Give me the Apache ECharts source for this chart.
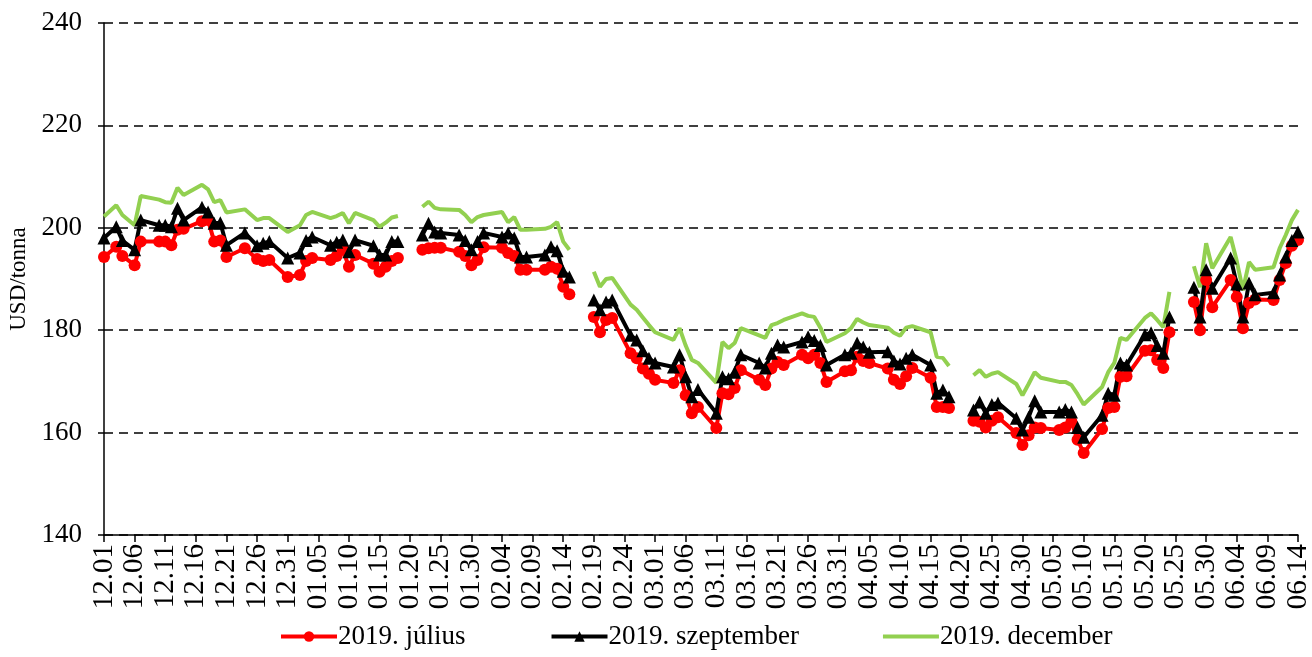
<!DOCTYPE html>
<html>
<head>
<meta charset="utf-8">
<title>Búza határidős árak</title>
<script src="https://cdn.jsdelivr.net/npm/echarts@6/dist/echarts.min.js"></script>
<style>
  html, body { margin: 0; padding: 0; background: #fff; }
  #main { width: 1312px; height: 657px; }
</style>
</head>
<body>
<div id="main"></div>
<script>
// trading days (null values = holiday, line is broken there)
var tradeDates = ['12.01', '12.03', '12.04', '12.06', '12.07', '12.10', '12.11', '12.12', '12.13', '12.14',
    '12.17', '12.18', '12.19', '12.20', '12.21', '12.24', '12.26', '12.27', '12.28', '12.31',
    '01.02', '01.03', '01.04', '01.07', '01.08', '01.09', '01.10', '01.11', '01.14', '01.15',
    '01.16', '01.17', '01.18', '01.21', '01.22', '01.23', '01.24', '01.25', '01.28', '01.29',
    '01.30', '01.31', '02.01', '02.04', '02.05', '02.06', '02.07', '02.08', '02.11', '02.12',
    '02.13', '02.14', '02.15', '02.18', '02.19', '02.20', '02.21', '02.22', '02.25', '02.26',
    '02.27', '02.28', '03.01', '03.04', '03.05', '03.06', '03.07', '03.08', '03.11', '03.12',
    '03.13', '03.14', '03.15', '03.18', '03.19', '03.20', '03.21', '03.22', '03.25', '03.26',
    '03.27', '03.28', '03.29', '04.01', '04.02', '04.03', '04.04', '04.05', '04.08', '04.09',
    '04.10', '04.11', '04.12', '04.15', '04.16', '04.17', '04.18', '04.19', '04.22', '04.23',
    '04.24', '04.25', '04.26', '04.29', '04.30', '05.01', '05.02', '05.03', '05.06', '05.07',
    '05.08', '05.09', '05.10', '05.13', '05.14', '05.15', '05.16', '05.17', '05.20', '05.21',
    '05.22', '05.23', '05.24', '05.27', '05.28', '05.29', '05.30', '05.31', '06.03', '06.04',
    '06.05', '06.06', '06.07', '06.10', '06.11', '06.12', '06.13', '06.14'];

var july = [194.3, 196.3, 194.5, 192.7, 197.3, 197.3, 197.3, 196.6, 199.6, 199.8,
    201.3, 201.5, 197.3, 197.5, 194.3, 196.0, 193.9, 193.5, 193.7, 190.4,
    190.8, 193.5, 194.1, 193.7, 194.5, 195.7, 192.4, 194.7, 193.0, 191.4,
    192.4, 193.5, 194.1, null, 195.7, 196.0, 196.1, 196.1, 195.3, 194.5,
    192.7, 193.7, 196.2, 196.1, 195.1, 194.5, 191.8, 191.8, 191.8, 192.4,
    192.0, 188.5, 187.0, null, 182.6, 179.6, 182.0, 182.4, 175.5, 174.5,
    172.5, 171.5, 170.3, 169.7, 172.2, 167.3, 163.8, 165.0, 160.9, 167.7,
    167.5, 168.7, 172.2, 170.3, 169.3, 172.5, 173.8, 173.2, 175.2, 174.5,
    175.2, 173.6, 169.9, 172.0, 172.2, 174.8, 174.0, 173.6, 172.5, 170.3,
    169.5, 171.0, 172.6, 170.7, 165.0, 165.0, 164.8, null, 162.3, 162.1,
    161.0, 162.3, 163.0, 159.9, 157.6, 159.5, 161.0, 160.9, 160.5, 161.0,
    162.1, 158.6, 156.0, 160.7, 164.8, 165.0, 170.9, 171.0, 176.0, 176.1,
    174.2, 172.6, 179.6, null, 185.5, 180.0, 189.8, 184.5, 189.8, 186.5,
    180.4, 185.3, 186.0, 185.9, 189.8, 193.1, 196.5, 197.6];

var september = [198.0, 200.2, 197.5, 195.7, 201.5, 200.5, 200.5, 200.2, 203.8, 201.5,
    204.0, 203.1, 200.9, 201.0, 196.6, 199.0, 196.5, 197.0, 197.3, 194.1,
    195.1, 197.5, 198.2, 196.6, 197.2, 197.6, 195.3, 197.6, 196.5, 194.7,
    194.7, 197.3, 197.3, null, 198.6, 200.9, 199.2, 199.0, 198.6, 197.5,
    195.7, 197.3, 199.0, 198.2, 199.0, 198.0, 194.3, 194.3, 194.7, 196.3,
    195.5, 191.5, 190.4, null, 185.9, 184.0, 185.5, 185.9, 179.0, 178.1,
    176.0, 174.5, 173.6, 172.8, 175.2, 170.9, 167.0, 168.4, 163.8, 170.9,
    170.5, 171.8, 175.2, 173.6, 172.6, 175.5, 177.1, 176.7, 177.7, 178.7,
    178.0, 177.0, 173.2, 175.2, 175.5, 177.5, 176.7, 175.7, 175.8, 174.0,
    173.4, 174.5, 175.2, 173.2, 167.7, 168.3, 167.0, null, 164.4, 166.0,
    163.8, 165.5, 165.8, 162.8, 160.5, 163.0, 166.2, 164.0, 164.0, 164.5,
    164.0, 161.0, 159.1, 163.4, 167.7, 167.3, 173.6, 173.2, 179.1, 179.5,
    177.0, 175.5, 182.6, null, 188.4, 182.6, 191.8, 188.2, 194.1, 189.0,
    182.6, 189.2, 186.9, 187.3, 190.8, 194.3, 197.5, 199.2];

var december = [202.2, 204.4, 202.5, 200.5, 206.2, 205.5, 205.0, 204.9, 207.8, 206.4,
    208.4, 207.5, 205.0, 205.4, 203.0, 203.6, 201.5, 201.9, 201.9, 199.2,
    200.5, 202.5, 203.1, 201.9, 202.3, 202.9, 200.9, 202.9, 201.5, 200.2,
    201.0, 202.0, 202.3, null, 204.1, 205.1, 203.9, 203.6, 203.5, 202.5,
    201.1, 202.1, 202.5, 203.1, 201.1, 202.1, 199.6, 199.6, 199.8, 200.2,
    201.1, 197.3, 195.7, null, 191.4, 188.5, 190.0, 190.2, 185.0, 184.0,
    182.5, 181.0, 179.6, 178.1, 180.4, 177.0, 174.2, 173.6, 169.7, 177.7,
    176.5, 177.5, 180.4, 179.0, 178.5, 181.0, 181.4, 182.0, 183.3, 182.8,
    182.6, 180.5, 177.7, 179.4, 180.4, 182.2, 181.5, 181.0, 180.5, 179.5,
    178.9, 180.5, 180.8, 179.6, 174.8, 174.6, 173.0, null, 171.2, 172.2,
    170.9, 171.5, 171.8, 169.5, 167.3, 169.5, 171.8, 170.7, 169.9, 169.9,
    169.3, 167.5, 165.5, 168.9, 171.8, 173.6, 178.5, 178.1, 182.4, 183.3,
    182.0, 180.6, 187.5, null, 192.5, 188.4, 197.0, 192.1, 198.2, 193.5,
    187.8, 193.3, 191.8, 192.3, 196.0, 198.6, 201.5, 203.5];

var yTicks = { min: 140, max: 240, interval: 20 };

// every calendar day on the axis, 12.01 .. 06.14
var days = [];
var t = Date.UTC(2018, 11, 1);
var tEnd = Date.UTC(2019, 5, 14);
while (t <= tEnd) {
    var d = new Date(t);
    var mm = ('0' + (d.getUTCMonth() + 1)).slice(-2);
    var dd = ('0' + d.getUTCDate()).slice(-2);
    days.push(mm + '.' + dd);
    t += 86400000;
}

function pairs(values) {
    return tradeDates.map(function (day, i) {
        return [day, values[i] == null ? '-' : values[i]];
    });
}

var font = 'Liberation Serif';
// plain thick bar for the december legend key (tiny corner dots keep the box size)
var barIcon = 'path://M0,0H0.05V0.05H0Z M0,4.5H56V8.5H0Z M55.95,12.95H56V13H55.95Z';

var chartDom = document.getElementById('main');
var myChart = echarts.init(chartDom);

var option = {
    animation: false,
    backgroundColor: '#fff',
    grid: { left: 104, right: 14, top: 23, bottom: 122, outerBoundsMode: 'none' },
    legend: {
        bottom: 2,
        left: 274,
        itemWidth: 56,
        itemHeight: 13,
        itemGap: 84,
        lineStyle: { width: 4 },
        textStyle: { fontFamily: font, fontSize: 27, color: '#000', padding: [0, 0, 0, -4] },
        data: [
            { name: '2019. július' },
            { name: '2019. szeptember' },
            { name: '2019. december', icon: barIcon, itemStyle: { color: '#92d050' } }
        ]
    },
    xAxis: {
        type: 'category',
        data: days,
        boundaryGap: false,
        axisLine: { lineStyle: { color: '#000', width: 1.5 } },
        axisTick: { interval: 4, length: 7, lineStyle: { color: '#000', width: 1.5 } },
        axisLabel: {
            interval: 4,
            rotate: 90,
            margin: 9,
            fontFamily: font,
            fontSize: 29,
            color: '#000'
        }
    },
    yAxis: {
        type: 'value',
        min: yTicks.min,
        max: yTicks.max,
        interval: yTicks.interval,
        name: 'USD/tonna',
        nameLocation: 'middle',
        nameGap: 73,
        nameRotate: 90,
        nameTextStyle: { fontFamily: font, fontSize: 23, color: '#000' },
        axisLine: { show: true, lineStyle: { color: '#000', width: 1.5 } },
        axisTick: { show: true, length: 6, lineStyle: { color: '#000', width: 1.5 } },
        axisLabel: { fontFamily: font, fontSize: 27, color: '#000', margin: 22 },
        splitLine: { lineStyle: { color: '#000', width: 1.5, type: [9, 6] } }
    },
    series: [{
        name: '2019. július',
        type: 'line',
        data: pairs(july),
        symbol: 'circle',
        symbolSize: 12,
        showAllSymbol: true,
        color: '#ff0000',
        lineStyle: { width: 4, color: '#ff0000' },
        itemStyle: { color: '#ff0000' }
    }, {
        name: '2019. szeptember',
        type: 'line',
        data: pairs(september),
        symbol: 'triangle',
        symbolSize: 13,
        showAllSymbol: true,
        color: '#000',
        lineStyle: { width: 4, color: '#000' },
        itemStyle: { color: '#000' }
    }, {
        name: '2019. december',
        type: 'line',
        data: pairs(december),
        showSymbol: false,
        symbol: 'none',
        color: '#92d050',
        lineStyle: { width: 4, color: '#92d050' }
    }]
};

option && myChart.setOption(option);
</script>
</body>
</html>
